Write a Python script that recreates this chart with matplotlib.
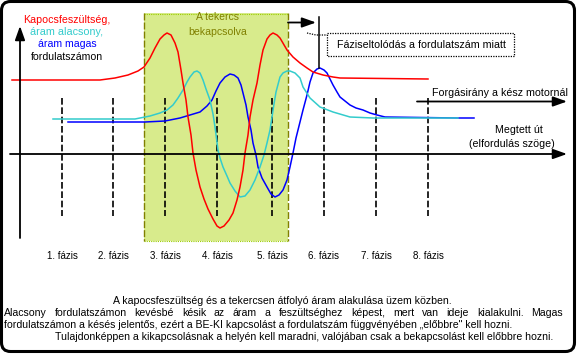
import matplotlib
matplotlib.use('Agg')
import matplotlib.pyplot as plt
from matplotlib.patches import FancyBboxPatch, Rectangle

plt.rcParams['font.family'] = ['Liberation Sans', 'DejaVu Sans']

# curves (pixel coords, y grows downwards)
red_x = [12, 100, 115, 128, 138, 144, 150, 155, 160, 164, 167, 171, 175, 178, 181, 183, 186, 188,
         191, 193, 196, 200, 204, 208, 213, 217, 220, 224, 229, 233, 237, 240, 243, 245, 248, 250,
         253, 257, 260, 263, 267, 270, 273, 277, 280, 287, 293, 300, 307, 313, 323, 333, 340, 428]
red_y = [80, 80, 78, 75, 71, 67, 58, 48, 39, 35, 33, 35, 43, 52, 70, 83, 100, 117,
         135, 153, 170, 187, 199, 209, 219, 226, 228, 226, 220, 213, 200, 187, 170, 153, 135, 117,
         100, 83, 65, 50, 39, 35, 33, 35, 38, 50, 57, 63, 68, 72, 75, 77, 78, 79]

cyan_x = [53, 135, 140, 150, 160, 167, 173, 178, 183, 187, 190, 194, 197, 200, 203, 206, 210, 213,
          215, 218, 220, 223, 227, 230, 235, 240, 245, 250, 255, 260, 264, 267, 270, 272, 274, 276,
          280, 283, 287, 290, 295, 300, 303, 310, 320, 333, 350, 373, 458]
cyan_y = [119, 119, 118, 116, 113, 110, 105, 98, 90, 82, 77, 72, 71, 73, 80, 89, 100, 114,
          127, 150, 158, 167, 176, 183, 191, 197, 196, 190, 180, 167, 155, 143, 130, 117, 104, 92,
          77, 73, 71, 71, 73, 78, 87, 98, 107, 112, 117, 118, 118]

blue_x = [68, 145, 165, 180, 190, 200, 207, 212, 216, 220, 225, 230, 234, 238, 241, 243, 246, 248,
          251, 253, 256, 258, 262, 267, 271, 275, 279, 283, 287, 290, 293, 296, 300, 303, 307, 310,
          313, 317, 320, 324, 327, 330, 333, 337, 340, 345, 350, 356, 363, 370, 377, 385, 458, 474]
blue_y = [122, 122, 121, 118, 115, 112, 106, 100, 91, 83, 77, 74, 75, 78, 85, 93, 105, 117,
          130, 143, 155, 167, 178, 187, 194, 197, 195, 190, 180, 167, 153, 138, 122, 110, 95, 82,
          73, 69, 68, 70, 73, 79, 85, 92, 97, 101, 105, 108, 110, 113, 115, 117, 118, 118]

phase_x = [62, 113, 165, 217, 272, 324, 376, 428]
phase_labels = ['1. fázis', '2. fázis', '3. fázis', '4. fázis',
                '5. fázis', '6. fázis', '7. fázis', '8. fázis']

legend_lines = ['Kapocsfeszültség,', 'áram alacsony,', 'áram magas', 'fordulatszámon']
caption = ['A kapocsfeszültség és a tekercsen átfolyó áram alakulása üzem közben.',
           'Alacsony fordulatszámon kevésbé késik az áram a feszültséghez képest, mert van ideje kialakulni. Magas',
           'fordulatszámon a késés jelentős, ezért a BE-KI kapcsolást a fordulatszám függvényében „előbbre" kell hozni.',
           'Tulajdonképpen a kikapcsolásnak a helyén kell maradni, valójában csak a bekapcsolást kell előbbre hozni.']

RED, CYAN, BLUE, OLIVE = '#ff0000', '#33cccc', '#0000ff', '#808000'

fig = plt.figure(figsize=(5.77, 3.54), dpi=100)
ax = fig.add_axes([0, 0, 1, 1])
ax.axis('off')

# dotted "coil on" area
ax.add_patch(Rectangle((144, 13), 144, 228, fc='#d8eb8c', ec='none', zorder=1))
ax.plot([144, 288], [13.5, 13.5], color='#99cc00', lw=0.8, ls=(0, (1, 1)), zorder=2)
ax.plot([144, 288], [240.5, 240.5], color='#99cc00', lw=0.8, ls=(0, (1, 1)), zorder=2)
for xe in (144, 287.5):
    ax.plot([xe, xe], [13, 241], color=OLIVE, lw=1, dashes=(5, 1.5), zorder=2)

# phase borders
for xp in phase_x:
    ax.plot([xp, xp], [98, 216], color='k', lw=1.2, dashes=(4, 1.6), zorder=2)

ax.plot(blue_x, blue_y, color=BLUE, lw=1.1, zorder=3)
ax.plot(cyan_x, cyan_y, color=CYAN, lw=1.1, zorder=3)
ax.plot(red_x, red_y, color=RED, lw=1.1, zorder=3)

arr = dict(arrowstyle='-|>,head_length=0.7,head_width=0.25', color='k', lw=1.3,
           shrinkA=0, shrinkB=0, mutation_scale=12)
ax.annotate('', xy=(20, 26), xytext=(20, 238), arrowprops=arr, zorder=4)
ax.annotate('', xy=(567, 154), xytext=(10, 154), arrowprops=arr, zorder=4)
ax.annotate('', xy=(567, 101.5), xytext=(417, 101.5), arrowprops=arr, zorder=4)
ax.annotate('', xy=(316, 22.5), xytext=(288, 22.5), arrowprops=arr, zorder=4)
ax.plot([319, 319], [17, 68], color='k', lw=1.1, zorder=4)

# callout box
ax.plot([327, 514, 514, 327, 327], [33, 33, 56, 56, 33], color='k', lw=0.9, ls=(0, (1, 1)), zorder=4)
ax.plot([307, 316, 327], [33, 35, 35], color='k', lw=0.9, ls=(0, (1, 1)), zorder=4)

# frame
ax.add_patch(FancyBboxPatch((1.5, 1.5), 573, 350, boxstyle='round,pad=0,rounding_size=9',
                            fc='none', ec='k', lw=2.2, zorder=5))

ax.set_xlim(0, 577)
ax.set_ylim(354, 0)

fig.canvas.draw()
r = fig.canvas.get_renderer()


def put(x, y, s, width, ha='left', **kw):
    t = ax.text(x, y, s, fontsize=8, ha=ha, va='center', zorder=6, **kw)
    bw = t.get_window_extent(r).width
    t.set_fontsize(8 * width / bw)
    return t


def txt(x, y, s, fs, ha='left', **kw):
    return ax.text(x, y, s, fontsize=fs, ha=ha, va='center', zorder=6, **kw)


put(23, 20, legend_lines[0], 87, color=RED)
put(30, 32, legend_lines[1], 73, color=CYAN)
put(38, 44, legend_lines[2], 59, color=BLUE)
put(31, 57, legend_lines[3], 72, color='k')

put(218, 17, 'A tekercs', 43, ha='center', color=OLIVE)
put(218, 32, 'bekapcsolva', 59, ha='center', color=OLIVE)

pfs = put(phase_x[0], 256, phase_labels[0], 31, ha='center').get_fontsize()
for xl, lab in zip(phase_x[1:], phase_labels[1:]):
    txt(xl, 256, lab, pfs, ha='center')

fs2 = put(432, 93, 'Forgásirány a kész motornál', 135).get_fontsize()
txt(337, 45, 'Fáziseltolódás a fordulatszám miatt', fs2)
txt(519, 130, 'Megtett út', fs2, ha='center')
txt(512, 144, '(elfordulás szöge)', fs2, ha='center')

fs = put(4, 325, caption[2], 513).get_fontsize()
txt(282, 301, caption[0], fs, ha='center')
txt(304, 337, caption[3], fs, ha='center')

# justified line
words = caption[1].split()
ts = [txt(0, 313, wd, fs) for wd in words]
ws = [t.get_window_extent(r).width for t in ts]
gap = (563 - 4 - sum(ws)) / (len(words) - 1)
xw = 4
for t, wd in zip(ts, ws):
    t.set_x(xw)
    xw += wd + gap

fig.savefig('out.png', dpi=100)
